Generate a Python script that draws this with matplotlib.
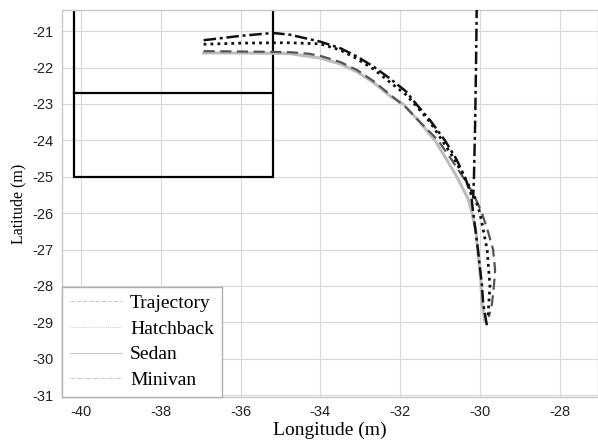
import matplotlib
matplotlib.use("Agg")
import matplotlib.pyplot as plt

plt.rcParams["axes.unicode_minus"] = False

# path data (longitude, latitude in m)
traj_lon = [-36.93, -36.0, -35.2, -34.76, -34.3, -34.0, -33.5, -33.08, -32.66, -32.26, -31.85,
            -31.5, -31.05, -30.7, -30.43, -30.15, -29.95, -29.8, -29.67, -29.62, -29.65, -29.7, -29.78]
traj_lat = [-21.55, -21.56, -21.57, -21.58, -21.62, -21.68, -21.85, -22.07, -22.38, -22.74, -23.1,
            -23.5, -24.0, -24.55, -25.0, -25.5, -26.0, -26.5, -27.0, -27.57, -28.0, -28.5, -28.85]

hatch_lon = [-36.93, -36.0, -35.19, -34.76, -34.0, -33.5, -33.08, -32.66, -32.26, -31.85,
             -31.6, -31.25, -30.95, -30.65, -30.4, -30.15, -30.0, -29.82, -29.75, -29.78, -29.8]
hatch_lat = [-21.36, -21.33, -21.32, -21.32, -21.35, -21.52, -21.76, -22.05, -22.4, -22.75,
             -23.05, -23.5, -24.0, -24.5, -25.0, -25.5, -26.0, -27.0, -28.0, -28.5, -28.9]

sedan_lon = [-36.93, -36.0, -35.2, -34.76, -34.0, -33.5, -33.08, -32.66, -32.26, -31.93,
             -31.55, -31.13, -30.85, -30.58, -30.3, -30.2, -30.1, -30.05, -29.98, -29.95, -29.88]
sedan_lat = [-21.6, -21.6, -21.61, -21.62, -21.74, -21.9, -22.12, -22.42, -22.78, -23.0,
             -23.45, -24.0, -24.5, -25.0, -25.6, -26.0, -26.5, -27.1, -27.8, -28.47, -28.95]

mini_lon = [-36.93, -36.0, -35.19, -34.76, -34.0, -33.5, -33.08, -32.66, -32.26, -31.85,
            -31.6, -31.25, -30.88, -30.6, -30.38, -30.22, -30.18, -30.05, -29.95, -29.92, -29.82]
mini_lat = [-21.25, -21.13, -21.05, -21.1, -21.29, -21.47, -21.7, -21.98, -22.3, -22.66,
            -23.0, -23.45, -24.0, -24.5, -25.0, -25.5, -25.9, -27.0, -28.0, -28.47, -29.13]

# straight part of the minivan path coming down from the top
mini_v_lon = [-30.08, -30.10, -30.12, -30.15, -30.17]
mini_v_lat = [-20.3, -22.0, -23.5, -25.0, -25.6]

# parking slot outline
slot_lon = [-40.18, -40.18, -35.18, -35.18]
slot_lat = [-20.0, -25.0, -25.0, -20.0]
slot_mid_lon = [-40.18, -35.18]
slot_mid_lat = [-22.7, -22.7]

xticks = [-40, -38, -36, -34, -32, -30, -28]
yticks = [-21, -22, -23, -24, -25, -26, -27, -28, -29, -30, -31]

fig = plt.figure(figsize=(5.98, 4.43), dpi=100)
ax = fig.add_axes([0.1037, 0.1038, 0.8963, 0.8736])

ax.grid(True, color="#d8d8d8", linewidth=0.8)
ax.set_axisbelow(True)

ax.plot(slot_lon, slot_lat, color="black", linewidth=1.6)
ax.plot(slot_mid_lon, slot_mid_lat, color="black", linewidth=1.6)

dashdot = (0, (5, 1.5, 1.2, 1.5))
ax.plot(sedan_lon, sedan_lat, color="#bdbdbd", linewidth=2.2, label="Sedan", zorder=3)
ax.plot(traj_lon, traj_lat, color="#555555", linewidth=1.6, linestyle=(0, (5, 2.5)),
        label="Trajectory", zorder=4)
ax.plot(hatch_lon, hatch_lat, color="#111111", linewidth=2.0, linestyle=(0, (1, 1.5)),
        label="Hatchback", zorder=5)
ax.plot(mini_lon, mini_lat, color="#111111", linewidth=1.8, linestyle=dashdot,
        label="Minivan", zorder=6)
ax.plot(mini_v_lon, mini_v_lat, color="#111111", linewidth=1.8, linestyle=dashdot, zorder=6)

ax.set_xlim(-40.48, -27.04)
ax.set_ylim(-31.05, -20.42)
ax.set_xticks(xticks)
ax.set_yticks(yticks)
for lab in ax.get_xticklabels() + ax.get_yticklabels():
    lab.set_fontfamily("Liberation Sans")
    lab.set_fontsize(10.5)
    lab.set_color("#222222")
ax.tick_params(length=0, pad=6)
for sp in ax.spines.values():
    sp.set_color("#c8c8c8")
    sp.set_linewidth(1.0)

ax.set_xlabel("Longitude (m)", fontfamily="Liberation Serif", fontsize=14, labelpad=2)
ax.set_ylabel("Latitude (m)", fontfamily="Liberation Serif", fontsize=11.5, labelpad=4)

# legend order as in the picture
h, l = ax.get_legend_handles_labels()
order = [l.index(n) for n in ["Trajectory", "Hatchback", "Sedan", "Minivan"]]
leg = ax.legend([h[i] for i in order], [l[i] for i in order], loc="lower left",
                prop={"family": "Liberation Serif", "size": 14}, fancybox=False,
                framealpha=1, edgecolor="#b0b0b0", borderaxespad=0.0,
                handlelength=2.7, labelspacing=0.42, borderpad=0.4, handletextpad=0.4)
leg.get_frame().set_linewidth(1.0)
for ln in leg.get_lines():
    ln.set_linewidth(0.6)
    ln.set_color("#bbbbbb")

fig.savefig("out.png", dpi=100)
